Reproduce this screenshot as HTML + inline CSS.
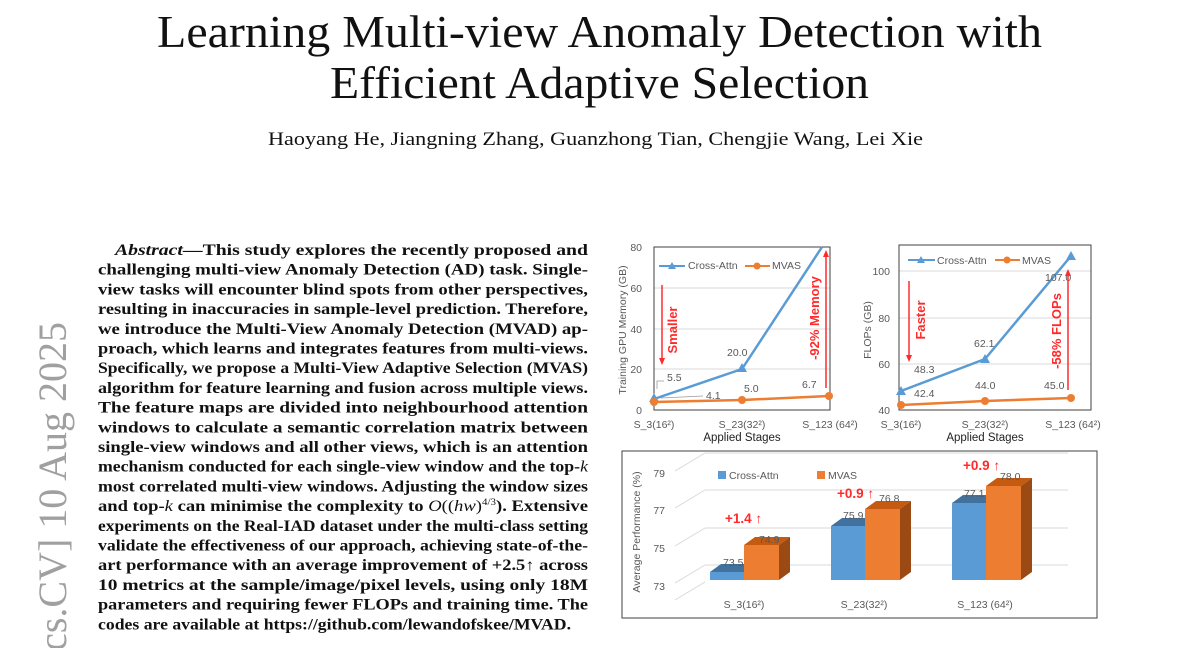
<!DOCTYPE html>
<html><head><meta charset="utf-8"><style>
html,body{margin:0;padding:0;background:#fff;width:1200px;height:648px;overflow:hidden}
svg{display:block}
.ab{font-family:"Liberation Serif",serif;font-weight:bold;font-size:15.3px;fill:#111}
.ch{font-family:"Liberation Sans",sans-serif;font-size:10.5px;fill:#595959}
.red{font-family:"Liberation Sans",sans-serif;font-weight:bold;fill:#ff2a2a}
</style></head><body>
<svg width="1200" height="648" viewBox="0 0 1200 648" xmlns="http://www.w3.org/2000/svg">
<g font-family="Liberation Serif,serif" fill="#111">
<text x="157" y="47" font-size="45" textLength="885" lengthAdjust="spacingAndGlyphs">Learning Multi-view Anomaly Detection with</text>
<text x="330" y="98" font-size="45" textLength="539" lengthAdjust="spacingAndGlyphs">Efficient Adaptive Selection</text>
<text x="268" y="145" font-size="18.5" textLength="655" lengthAdjust="spacingAndGlyphs">Haoyang He, Jiangning Zhang, Guanzhong Tian, Chengjie Wang, Lei Xie</text>
</g>
<text transform="translate(66,322) rotate(-90)" text-anchor="end" font-family="Liberation Serif,serif" font-size="40" fill="#a0a0a0">arXiv:2508.07300v1  [cs.CV]  10 Aug 2025</text>
<g class="ab">
<text x="115" y="255" textLength="473" lengthAdjust="spacingAndGlyphs"><tspan font-style="italic">Abstract</tspan>—This study explores the recently proposed and</text>
<text x="98" y="274.7" textLength="490" lengthAdjust="spacingAndGlyphs">challenging multi-view Anomaly Detection (AD) task. Single-</text>
<text x="98" y="294.4" textLength="490" lengthAdjust="spacingAndGlyphs">view tasks will encounter blind spots from other perspectives,</text>
<text x="98" y="314.1" textLength="490" lengthAdjust="spacingAndGlyphs">resulting in inaccuracies in sample-level prediction. Therefore,</text>
<text x="98" y="333.8" textLength="490" lengthAdjust="spacingAndGlyphs">we introduce the Multi-View Anomaly Detection (MVAD) ap-</text>
<text x="98" y="353.5" textLength="490" lengthAdjust="spacingAndGlyphs">proach, which learns and integrates features from multi-views.</text>
<text x="98" y="373.2" textLength="490" lengthAdjust="spacingAndGlyphs">Specifically, we propose a Multi-View Adaptive Selection (MVAS)</text>
<text x="98" y="392.9" textLength="490" lengthAdjust="spacingAndGlyphs">algorithm for feature learning and fusion across multiple views.</text>
<text x="98" y="412.6" textLength="490" lengthAdjust="spacingAndGlyphs">The feature maps are divided into neighbourhood attention</text>
<text x="98" y="432.3" textLength="490" lengthAdjust="spacingAndGlyphs">windows to calculate a semantic correlation matrix between</text>
<text x="98" y="452" textLength="490" lengthAdjust="spacingAndGlyphs">single-view windows and all other views, which is an attention</text>
<text x="98" y="471.7" textLength="490" lengthAdjust="spacingAndGlyphs">mechanism conducted for each single-view window and the top-<tspan font-style="italic" font-weight="normal">k</tspan></text>
<text x="98" y="491.4" textLength="490" lengthAdjust="spacingAndGlyphs">most correlated multi-view windows. Adjusting the window sizes</text>
<text x="98" y="511.1" textLength="490" lengthAdjust="spacingAndGlyphs">and top-<tspan font-style="italic" font-weight="normal">k</tspan> can minimise the complexity to <tspan font-weight="normal" font-style="italic">O</tspan><tspan font-weight="normal">((</tspan><tspan font-weight="normal" font-style="italic">hw</tspan><tspan font-weight="normal">)</tspan><tspan font-weight="normal" font-size="9" dy="-6">4/3</tspan><tspan dy="6">). Extensive</tspan></text>
<text x="98" y="530.8" textLength="490" lengthAdjust="spacingAndGlyphs">experiments on the Real-IAD dataset under the multi-class setting</text>
<text x="98" y="550.5" textLength="490" lengthAdjust="spacingAndGlyphs">validate the effectiveness of our approach, achieving state-of-the-</text>
<text x="98" y="570.2" textLength="490" lengthAdjust="spacingAndGlyphs">art performance with an average improvement of +2.5↑ across</text>
<text x="98" y="589.9" textLength="490" lengthAdjust="spacingAndGlyphs">10 metrics at the sample/image/pixel levels, using only 18M</text>
<text x="98" y="609.6" textLength="490" lengthAdjust="spacingAndGlyphs">parameters and requiring fewer FLOPs and training time. The</text>
<text x="98" y="629.3" textLength="473" lengthAdjust="spacingAndGlyphs">codes are available at https://github.com/lewandofskee/MVAD.</text>
</g>

<!-- Chart 1 -->
<g>
<line x1="654" y1="288" x2="830" y2="288" stroke="#d9d9d9"/>
<line x1="654" y1="329" x2="830" y2="329" stroke="#d9d9d9"/>
<line x1="654" y1="369" x2="830" y2="369" stroke="#d9d9d9"/>
<rect x="654" y="247" width="176" height="163" fill="none" stroke="#404040" stroke-width="1"/>
<g class="ch" text-anchor="end"><text x="642" y="251">80</text><text x="642" y="292">60</text><text x="642" y="333">40</text><text x="642" y="373">20</text><text x="642" y="414">0</text></g>
<text class="ch" transform="translate(626,330) rotate(-90)" text-anchor="middle" font-size="10.5" fill="#333">Training GPU Memory (GB)</text>
<polyline points="654,399 742,369 822,247" fill="none" stroke="#5b9bd5" stroke-width="2.5"/>
<polygon points="742,363 747,372 737,372" fill="#5b9bd5"/>
<polygon points="654,393 659,402 649,402" fill="#5b9bd5"/>
<polyline points="654,402 742,400 829,396" fill="none" stroke="#ed7d31" stroke-width="2.5"/>
<circle cx="654" cy="402" r="4" fill="#ed7d31"/><circle cx="742" cy="400" r="4" fill="#ed7d31"/><circle cx="829" cy="396" r="4" fill="#ed7d31"/>
<line x1="659" y1="266" x2="685" y2="266" stroke="#5b9bd5" stroke-width="2"/><polygon points="672,262 676,269 668,269" fill="#5b9bd5"/>
<text class="ch" x="688" y="269">Cross-Attn</text>
<line x1="745" y1="266" x2="770" y2="266" stroke="#ed7d31" stroke-width="2"/><circle cx="757" cy="266" r="3.5" fill="#ed7d31"/>
<text class="ch" x="772" y="269">MVAS</text>
<g class="ch"><text x="667" y="381">5.5</text><text x="706" y="399">4.1</text><text x="727" y="356">20.0</text><text x="744" y="392">5.0</text><text x="802" y="388">6.7</text></g>
<polyline points="657,389 657,381 664,381" fill="none" stroke="#999" stroke-width="0.8"/>
<line x1="661" y1="398" x2="703" y2="396" stroke="#999" stroke-width="0.8"/>
<line x1="662" y1="285" x2="662" y2="360" stroke="#ff2a2a" stroke-width="1.5"/>
<polygon points="659,358 665,358 662,365" fill="#ff2a2a"/>
<text class="red" transform="translate(677,330) rotate(-90)" text-anchor="middle" font-size="13">Smaller</text>
<line x1="826" y1="255" x2="826" y2="388" stroke="#ff2a2a" stroke-width="1.5"/>
<polygon points="823,257 829,257 826,250" fill="#ff2a2a"/>
<text class="red" transform="translate(819,318) rotate(-90)" text-anchor="middle" font-size="13">-92% Memory</text>
<g class="ch" text-anchor="middle"><text x="654" y="428">S_3(16²)</text><text x="742" y="428">S_23(32²)</text><text x="830" y="428">S_123 (64²)</text></g>
<text x="742" y="441" text-anchor="middle" font-family="Liberation Sans,sans-serif" font-size="11.5" fill="#222">Applied Stages</text>
</g>

<!-- Chart 2 -->
<g>
<line x1="899" y1="271" x2="1091" y2="271" stroke="#d9d9d9"/>
<line x1="899" y1="318" x2="1091" y2="318" stroke="#d9d9d9"/>
<line x1="899" y1="364" x2="1091" y2="364" stroke="#d9d9d9"/>
<rect x="899" y="245" width="192" height="165" fill="none" stroke="#404040"/>
<g class="ch" text-anchor="end"><text x="890" y="275">100</text><text x="890" y="322">80</text><text x="890" y="368">60</text><text x="890" y="414">40</text></g>
<text class="ch" transform="translate(871,330) rotate(-90)" text-anchor="middle" fill="#333">FLOPs (GB)</text>
<polyline points="901,391 985,359 1071,256" fill="none" stroke="#5b9bd5" stroke-width="2.5"/>
<polygon points="901,386 906,395 896,395" fill="#5b9bd5"/><polygon points="985,354 990,363 980,363" fill="#5b9bd5"/><polygon points="1071,251 1076,260 1066,260" fill="#5b9bd5"/>
<polyline points="901,405 985,401 1071,398" fill="none" stroke="#ed7d31" stroke-width="2.5"/>
<circle cx="901" cy="405" r="4" fill="#ed7d31"/><circle cx="985" cy="401" r="4" fill="#ed7d31"/><circle cx="1071" cy="398" r="4" fill="#ed7d31"/>
<line x1="908" y1="260" x2="935" y2="260" stroke="#5b9bd5" stroke-width="2"/><polygon points="921,256 925,263 917,263" fill="#5b9bd5"/>
<text class="ch" x="937" y="264">Cross-Attn</text>
<line x1="995" y1="260" x2="1020" y2="260" stroke="#ed7d31" stroke-width="2"/><circle cx="1007" cy="260" r="3.5" fill="#ed7d31"/>
<text class="ch" x="1022" y="264">MVAS</text>
<g class="ch"><text x="914" y="373">48.3</text><text x="914" y="397">42.4</text><text x="974" y="347">62.1</text><text x="975" y="389">44.0</text><text x="1045" y="281">107.0</text><text x="1044" y="389">45.0</text></g>
<line x1="909" y1="281" x2="909" y2="356" stroke="#ff2a2a" stroke-width="1.5"/>
<polygon points="906,355 912,355 909,362" fill="#ff2a2a"/>
<text class="red" transform="translate(925,320) rotate(-90)" text-anchor="middle" font-size="13">Faster</text>
<line x1="1068" y1="274" x2="1068" y2="390" stroke="#ff2a2a" stroke-width="1.5"/>
<polygon points="1065,276 1071,276 1068,269" fill="#ff2a2a"/>
<text class="red" transform="translate(1061,331) rotate(-90)" text-anchor="middle" font-size="13">-58% FLOPs</text>
<g class="ch" text-anchor="middle"><text x="901" y="428">S_3(16²)</text><text x="985" y="428">S_23(32²)</text><text x="1073" y="428">S_123 (64²)</text></g>
<text x="985" y="441" text-anchor="middle" font-family="Liberation Sans,sans-serif" font-size="11.5" fill="#222">Applied Stages</text>
</g>

<!-- Bar chart -->
<g>
<rect x="622" y="451" width="475" height="167" fill="none" stroke="#404040"/>
<g stroke="#d9d9d9">
<line x1="675" y1="583" x2="705" y2="565"/><line x1="705" y1="565" x2="1068" y2="565"/>
<line x1="675" y1="546" x2="705" y2="528"/><line x1="705" y1="528" x2="1068" y2="528"/>
<line x1="675" y1="508" x2="705" y2="490"/><line x1="705" y1="490" x2="1068" y2="490"/>
<line x1="675" y1="471" x2="705" y2="453"/><line x1="705" y1="453" x2="1068" y2="453"/>
<line x1="675" y1="600" x2="705" y2="582"/>
</g>
<g class="ch" font-size="11.5" text-anchor="end"><text x="665" y="477">79</text><text x="665" y="514">77</text><text x="665" y="552">75</text><text x="665" y="590">73</text></g>
<text class="ch" transform="translate(640,532) rotate(-90)" text-anchor="middle" fill="#333">Average Performance (%)</text>
<polygon points="710,572 721,564 755,564 744,572" fill="#41719c"/>
<rect x="710" y="572" width="34" height="8" fill="#5b9bd5"/>
<polygon points="744,545 755,537 790,537 779,545" fill="#c55a11"/>
<polygon points="779,545 790,537 790,572 779,580" fill="#9c4a14"/>
<rect x="744" y="545" width="35" height="35" fill="#ed7d31"/>
<polygon points="831,526 842,518 876,518 865,526" fill="#41719c"/>
<rect x="831" y="526" width="34" height="54" fill="#5b9bd5"/>
<polygon points="865,509 876,501 911,501 900,509" fill="#c55a11"/>
<polygon points="900,509 911,501 911,572 900,580" fill="#9c4a14"/>
<rect x="865" y="509" width="35" height="71" fill="#ed7d31"/>
<polygon points="952,503 963,495 997,495 986,503" fill="#41719c"/>
<rect x="952" y="503" width="34" height="77" fill="#5b9bd5"/>
<polygon points="986,486 997,478 1032,478 1021,486" fill="#c55a11"/>
<polygon points="1021,486 1032,478 1032,572 1021,580" fill="#9c4a14"/>
<rect x="986" y="486" width="35" height="94" fill="#ed7d31"/>
<g class="ch" font-size="11.5"><text x="723" y="566">73.5</text><text x="759" y="543">74.9</text><text x="843" y="519">75.9</text><text x="879" y="502">76.8</text><text x="964" y="497">77.1</text><text x="1000" y="480">78.0</text></g>
<g class="red" font-size="13.5"><text x="725" y="523">+1.4 ↑</text><text x="837" y="498">+0.9 ↑</text><text x="963" y="470">+0.9 ↑</text></g>
<rect x="718" y="471" width="8" height="8" fill="#5b9bd5"/><text class="ch" x="729" y="479" font-size="11">Cross-Attn</text>
<rect x="817" y="471" width="8" height="8" fill="#ed7d31"/><text class="ch" x="828" y="479" font-size="11">MVAS</text>
<g class="ch" text-anchor="middle" font-size="10.5"><text x="744" y="608">S_3(16²)</text><text x="864" y="608">S_23(32²)</text><text x="985" y="608">S_123 (64²)</text></g>
</g>
</svg>
</body></html>
